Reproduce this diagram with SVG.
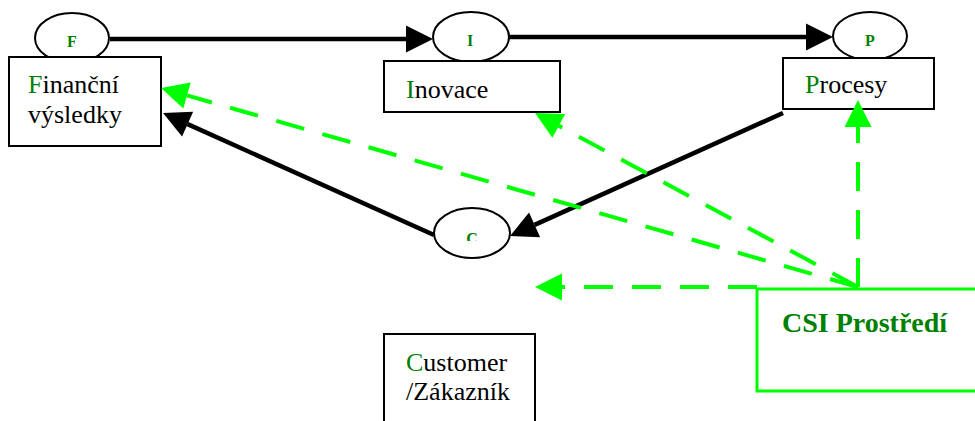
<svg xmlns="http://www.w3.org/2000/svg" width="975" height="421" viewBox="0 0 975 421">
<style>
.box{fill:#fff;stroke:#000;stroke-width:2}
.ell{fill:#fff;stroke:#000;stroke-width:2}
.lbl{font-family:"Liberation Serif","Times New Roman",serif;font-size:26px;fill:#000}
.g{fill:#008000}
.letter{font-family:"Liberation Serif","Times New Roman",serif;font-size:16px;font-weight:bold;fill:#008000;text-anchor:middle}
.blk{stroke:#000;stroke-width:4.5;fill:none}
.grn{stroke:#00ff00;stroke-width:4;fill:none;stroke-dasharray:29 19}
.csi{font-family:"Liberation Serif","Times New Roman",serif;font-size:28px;font-weight:bold;fill:#008000}
</style>
<defs>
<marker id="ab" markerUnits="userSpaceOnUse" markerWidth="28" markerHeight="28" refX="0" refY="13.5" orient="auto" overflow="visible">
<path d="M0,0 L27,13.5 L0,27 Z" fill="#000"/>
</marker>
<marker id="ag" markerUnits="userSpaceOnUse" markerWidth="28" markerHeight="28" refX="0" refY="13.5" orient="auto" overflow="visible">
<path d="M0,0 L27,13.5 L0,27 Z" fill="#00ff00"/>
</marker>
<clipPath id="clipC"><rect x="440" y="200" width="70" height="41"/></clipPath>
</defs>

<g id="node-F">
<ellipse class="ell" cx="72" cy="38" rx="37" ry="25"/>
<text class="letter" x="72" y="47">F</text>
<rect class="box" x="9" y="57" width="152" height="89"/>
<text class="lbl" x="28" y="93"><tspan class="g">F</tspan>inanční</text>
<text class="lbl" x="28" y="123">výsledky</text>
</g>

<g id="node-I">
<ellipse class="ell" cx="471" cy="37" rx="38" ry="25"/>
<text class="letter" x="470" y="46">I</text>
<rect class="box" x="384" y="61" width="176" height="51"/>
<text class="lbl" x="406" y="98"><tspan class="g">I</tspan>novace</text>
</g>

<g id="node-P">
<ellipse class="ell" cx="870" cy="36" rx="37" ry="24"/>
<text class="letter" x="870" y="46">P</text>
<rect class="box" x="783" y="58" width="151" height="51"/>
<text class="lbl" x="805" y="93"><tspan class="g">P</tspan>rocesy</text>
</g>

<g id="node-C">
<ellipse class="ell" cx="472" cy="233" rx="38" ry="25"/>
<text class="letter" x="472" y="244" clip-path="url(#clipC)">C</text>
</g>

<g id="node-Customer">
<rect class="box" x="384" y="334" width="151" height="100"/>
<text class="lbl" x="406" y="371"><tspan class="g">C</tspan>ustomer</text>
<text class="lbl" x="406" y="400">/Zákazník</text>
</g>

<g id="node-CSI">
<rect x="757" y="289" width="230" height="102" fill="#fff" stroke="#00ff00" stroke-width="3"/>
<text class="csi" x="782" y="332">CSI Prostředí</text>
</g>

<g id="connectors">
<line class="blk" x1="110" y1="39" x2="406" y2="39" marker-end="url(#ab)"/>
<line class="blk" x1="509" y1="37" x2="806" y2="37" marker-end="url(#ab)"/>
<line class="blk" x1="783" y1="113" x2="534.6" y2="224.9" marker-end="url(#ab)"/>
<line class="blk" x1="434" y1="235" x2="187.6" y2="124.1" marker-end="url(#ab)"/>
<line class="grn" x1="858" y1="287" x2="187" y2="95.4" marker-end="url(#ag)"/>
<line class="grn" x1="858" y1="287" x2="558.8" y2="125.8" marker-end="url(#ag)"/>
<line class="grn" x1="858" y1="287" x2="858" y2="127" marker-end="url(#ag)"/>
<line class="grn" x1="757" y1="287" x2="562" y2="287" marker-end="url(#ag)"/>
</g>
</svg>
